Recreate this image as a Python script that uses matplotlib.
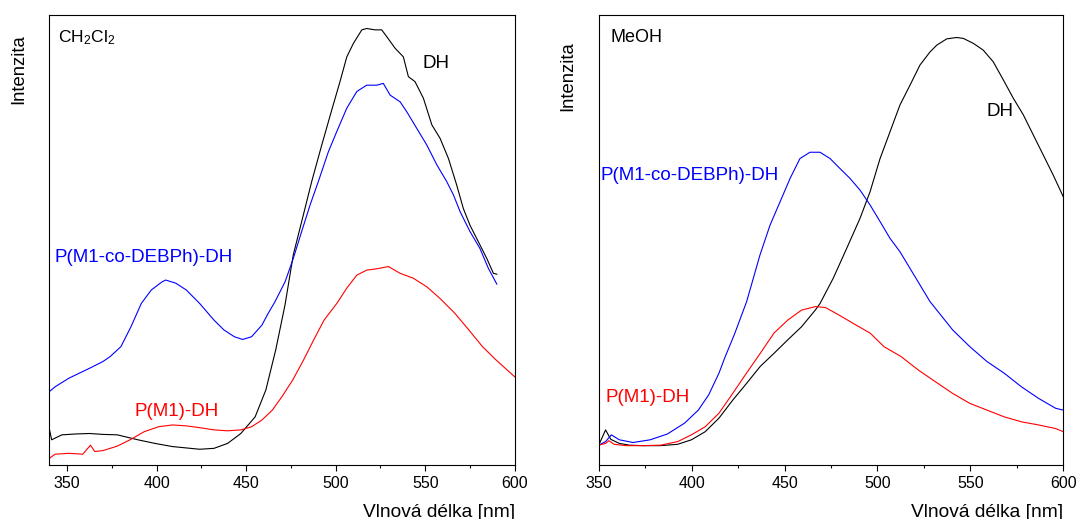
import matplotlib
matplotlib.use("Agg")
import matplotlib.pyplot as plt
from matplotlib.ticker import MultipleLocator

plt.rcParams['font.family'] = ['Liberation Sans', 'DejaVu Sans']
plt.rcParams['mathtext.fontset'] = 'custom'
plt.rcParams['mathtext.rm'] = 'Liberation Sans'
plt.rcParams['mathtext.default'] = 'regular'

# ---- CH2Cl2 spectra (normalised intensity) ----
dcm_dh_nm = [340.0, 341.3, 347.0, 355.0, 362.5, 370.0, 378.0, 389.5, 399.0, 408.7, 424.0,
             432.0, 439.6, 447.0, 455.0, 461.0, 466.5, 471.7, 476.3, 481.0, 486.6, 492.2,
             497.8, 502.4, 506.2, 509.9, 514.6, 517.3, 522.0, 525.7, 528.5, 533.2, 537.8,
             540.6, 544.3, 549.0, 553.7, 558.3, 563.0, 567.6, 571.3, 575.0, 580.6, 584.4,
             588.1, 590.0]
dcm_dh_int = [0.081, 0.056, 0.067, 0.069, 0.070, 0.068, 0.067, 0.056, 0.048, 0.041, 0.035,
              0.037, 0.048, 0.070, 0.107, 0.167, 0.256, 0.356, 0.467, 0.541, 0.630, 0.711,
              0.789, 0.852, 0.907, 0.937, 0.967, 0.970, 0.967, 0.967, 0.952, 0.926, 0.907,
              0.863, 0.852, 0.815, 0.756, 0.726, 0.681, 0.622, 0.570, 0.533, 0.489, 0.459,
              0.426, 0.424]

dcm_co_nm = [340.0, 343.3, 351.0, 362.5, 370.0, 374.0, 380.0, 385.6, 391.4, 397.0, 403.0,
             405.0, 410.7, 416.5, 424.0, 432.0, 437.6, 443.4, 448.0, 453.0, 458.8, 462.0,
             466.1, 471.7, 476.3, 481.0, 485.7, 490.3, 495.9, 500.6, 506.2, 511.8, 517.3,
             522.9, 526.6, 530.4, 536.0, 539.7, 545.3, 550.9, 556.5, 562.0, 565.8, 569.5,
             575.0, 580.6, 585.3, 590.0]
dcm_co_int = [0.163, 0.174, 0.193, 0.215, 0.230, 0.241, 0.263, 0.307, 0.359, 0.389, 0.407,
              0.411, 0.404, 0.389, 0.359, 0.322, 0.300, 0.285, 0.279, 0.285, 0.311, 0.335,
              0.363, 0.407, 0.459, 0.519, 0.578, 0.630, 0.696, 0.741, 0.793, 0.830, 0.844,
              0.844, 0.848, 0.822, 0.807, 0.785, 0.748, 0.711, 0.667, 0.630, 0.600, 0.563,
              0.519, 0.481, 0.437, 0.402]

dcm_m1_nm = [340.0, 343.3, 351.0, 358.7, 363.0, 365.4, 370.0, 378.0, 385.6, 393.0, 401.0,
             408.8, 416.5, 424.0, 432.0, 439.6, 447.0, 453.0, 458.8, 464.6, 470.0, 476.0,
             482.0, 487.7, 493.5, 500.6, 506.2, 511.8, 517.3, 522.9, 529.4, 536.0, 543.4,
             550.9, 558.3, 566.6, 574.4, 582.0, 589.7, 600.0]
dcm_m1_int = [0.015, 0.024, 0.026, 0.024, 0.044, 0.030, 0.032, 0.042, 0.057, 0.074, 0.085,
              0.089, 0.087, 0.083, 0.078, 0.076, 0.078, 0.085, 0.100, 0.122, 0.152, 0.189,
              0.233, 0.278, 0.322, 0.359, 0.393, 0.422, 0.433, 0.436, 0.441, 0.426, 0.415,
              0.396, 0.370, 0.337, 0.300, 0.263, 0.233, 0.196]

# ---- MeOH spectra (normalised intensity) ----
meoh_dh_nm = [350.0, 353.7, 356.5, 361.1, 366.6, 374.0, 383.3, 392.5, 399.9, 407.3, 414.7,
              422.1, 429.5, 436.9, 444.3, 451.7, 459.1, 466.5, 469.1, 476.2, 483.4, 490.6,
              496.0, 501.4, 506.8, 512.1, 517.5, 522.9, 528.3, 531.9, 537.3, 542.6, 546.2,
              551.6, 556.9, 562.3, 567.7, 573.1, 578.5, 583.9, 589.2, 594.6, 600.0]
meoh_dh_int = [0.044, 0.078, 0.057, 0.048, 0.044, 0.043, 0.043, 0.046, 0.056, 0.074, 0.104,
               0.144, 0.181, 0.219, 0.248, 0.278, 0.307, 0.344, 0.359, 0.415, 0.481, 0.548,
               0.607, 0.681, 0.741, 0.800, 0.844, 0.889, 0.918, 0.933, 0.947, 0.950, 0.948,
               0.937, 0.922, 0.896, 0.856, 0.815, 0.778, 0.733, 0.689, 0.644, 0.596]

meoh_co_nm = [350.0, 353.7, 356.8, 361.1, 368.5, 377.7, 387.0, 396.2, 403.6, 409.2, 414.7,
              418.0, 423.0, 429.6, 436.8, 442.2, 447.6, 453.0, 458.3, 463.7, 469.1, 474.5,
              479.8, 485.2, 490.6, 496.0, 501.4, 506.7, 512.1, 517.5, 522.9, 528.3, 540.5,
              549.7, 558.9, 568.2, 577.4, 586.7, 595.9, 600.0]
meoh_co_int = [0.044, 0.052, 0.067, 0.056, 0.050, 0.056, 0.069, 0.093, 0.122, 0.156, 0.204,
               0.240, 0.290, 0.363, 0.467, 0.533, 0.585, 0.637, 0.681, 0.695, 0.695, 0.681,
               0.659, 0.637, 0.611, 0.578, 0.541, 0.504, 0.474, 0.437, 0.400, 0.363, 0.300,
               0.263, 0.230, 0.204, 0.174, 0.148, 0.126, 0.122]

meoh_m1_nm = [350.0, 353.7, 355.5, 358.3, 364.8, 374.0, 383.3, 392.5, 399.9, 407.3, 414.7,
              422.1, 429.5, 436.9, 444.3, 451.7, 459.1, 466.5, 472.0, 479.4, 486.8, 496.1,
              503.5, 512.7, 522.0, 531.2, 540.5, 549.7, 558.9, 568.2, 577.4, 586.7, 595.9,
              600.0]
meoh_m1_int = [0.044, 0.048, 0.054, 0.046, 0.043, 0.043, 0.044, 0.052, 0.067, 0.085, 0.115,
               0.159, 0.204, 0.248, 0.293, 0.322, 0.344, 0.352, 0.350, 0.333, 0.315, 0.293,
               0.263, 0.241, 0.211, 0.185, 0.159, 0.137, 0.122, 0.107, 0.096, 0.089, 0.081,
               0.074]

W, H = 1079, 519
fig = plt.figure(figsize=(W / 100, H / 100), dpi=100)


def px_axes(x0, x1, y0, y1):
    return fig.add_axes([x0 / W, 1 - y1 / H, (x1 - x0) / W, (y1 - y0) / H])


def px_text(xpix, ypix, s, **kw):
    fig.text(xpix / W, 1 - ypix / H, s, **kw)


ax1 = px_axes(49.3, 514.7, 15, 465)
ax2 = px_axes(598.7, 1063.3, 15, 465)

LW = 0.8
BLUE, RED = '#0000ff', '#ff0000'
ax1.plot(dcm_dh_nm, dcm_dh_int, color='black', lw=LW)
ax1.plot(dcm_co_nm, dcm_co_int, color=BLUE, lw=LW)
ax1.plot(dcm_m1_nm, dcm_m1_int, color=RED, lw=LW)

ax2.plot(meoh_dh_nm, meoh_dh_int, color='black', lw=LW)
ax2.plot(meoh_co_nm, meoh_co_int, color=BLUE, lw=LW)
ax2.plot(meoh_m1_nm, meoh_m1_int, color=RED, lw=LW)

ax1.set_xlim(340, 600)
ax2.set_xlim(350, 600)
for ax in (ax1, ax2):
    ax.set_ylim(0, 1)
    ax.set_yticks([])
    ax.xaxis.set_major_locator(MultipleLocator(50))
    ax.xaxis.set_minor_locator(MultipleLocator(25))
    ax.tick_params(axis='x', which='major', direction='out', length=4, width=0.8,
                   labelsize=11.5, pad=4, top=False)
    ax.tick_params(axis='x', which='minor', direction='out', length=2.2, width=0.8, top=False)
    for sp in ax.spines.values():
        sp.set_linewidth(0.8)

# series labels
fs = 13.5
px_text(58, 38, 'CH$_2$Cl$_2$', fontsize=12.5, ha='left', va='center')
px_text(422, 63, 'DH', color='black', fontsize=fs, ha='left', va='center')
px_text(54, 257, 'P(M1-co-DEBPh)-DH', color=BLUE, fontsize=fs, ha='left', va='center')
px_text(135, 412, 'P(M1)-DH', color=RED, fontsize=fs, ha='left', va='center')

px_text(610, 37, 'MeOH', color='black', fontsize=13, ha='left', va='center')
px_text(986, 111, 'DH', color='black', fontsize=fs, ha='left', va='center')
px_text(600, 175, 'P(M1-co-DEBPh)-DH', color=BLUE, fontsize=fs, ha='left', va='center')
px_text(605, 398, 'P(M1)-DH', color=RED, fontsize=fs, ha='left', va='center')

# axis titles
px_text(514.7, 517, 'Vlnová délka [nm]', fontsize=13.8, ha='right', va='baseline')
px_text(1063.3, 517, 'Vlnová délka [nm]', fontsize=13.8, ha='right', va='baseline')
px_text(19, 34, 'Intenzita', fontsize=13.3, rotation=90, ha='center', va='top')
px_text(567.5, 41, 'Intenzita', fontsize=13.3, rotation=90, ha='center', va='top')

fig.savefig('out.png', dpi=100)
